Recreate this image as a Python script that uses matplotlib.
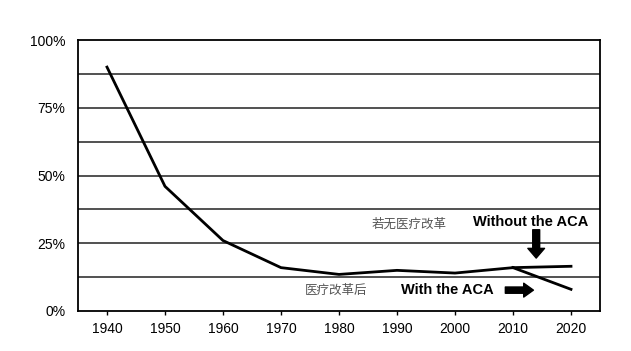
import matplotlib.pyplot as plt
import numpy as np

years = [1940, 1950, 1960, 1970, 1980, 1990, 2000, 2010]
share = [90, 46, 26, 16, 13.5, 15, 14, 16]
yrs_without = [2010, 2020]
share_without = [16, 16.5]
yrs_with = [2010, 2020]
share_with = [16, 8]
xticks = [1940, 1950, 1960, 1970, 1980, 1990, 2000, 2010, 2020]
yticks = [0, 25, 50, 75, 100]

plt.rcParams['font.family'] = ['Liberation Sans', 'Noto Sans CJK SC', 'DejaVu Sans']

fig = plt.figure(figsize=(6.31, 3.51), dpi=100)
ax = fig.add_axes([78 / 631, 1 - 311 / 351, 522 / 631, 271 / 351])

for g in np.arange(12.5, 100, 12.5):
    ax.axhline(g, color='#222222', lw=1.1, zorder=1)

ax.plot(years, share, color='black', lw=2, zorder=3)
ax.plot(yrs_without, share_without, color='black', lw=2, zorder=3)
ax.plot(yrs_with, share_with, color='black', lw=2, zorder=3)

ax.set_xlim(1935, 2025)
ax.set_ylim(0, 100)
ax.set_xticks(xticks)
ax.set_yticks(yticks)
ax.set_yticklabels([f'{v}%' for v in yticks])
ax.tick_params(axis='x', length=3, width=1, direction='out', labelsize=10, pad=5)
ax.tick_params(axis='y', length=0, labelsize=10, pad=9)
for s in ax.spines.values():
    s.set_linewidth(1.3)

ax.text(1992, 32, '若无医疗改革', fontsize=9, color='#555555',
        family=['Noto Sans CJK SC'], va='center', ha='center')
ax.text(2013, 33, 'Without the ACA', fontsize=10.5, fontweight='bold', va='center', ha='center')
ax.annotate('', xy=(2014, 18.5), xytext=(2014, 31),
            arrowprops=dict(arrowstyle='simple,head_length=0.7,head_width=1.2,tail_width=0.5',
                            color='black'))
ax.text(1979.5, 7.7, '医疗改革后', fontsize=9, color='#555555',
        family=['Noto Sans CJK SC'], va='center', ha='center')
ax.text(1998.6, 7.7, 'With the ACA', fontsize=10.5, fontweight='bold', va='center', ha='center')
ax.annotate('', xy=(2014, 7.7), xytext=(2008.2, 7.7),
            arrowprops=dict(arrowstyle='simple,head_length=0.7,head_width=1.0,tail_width=0.45',
                            color='black'))

fig.savefig('out.png', dpi=100)
